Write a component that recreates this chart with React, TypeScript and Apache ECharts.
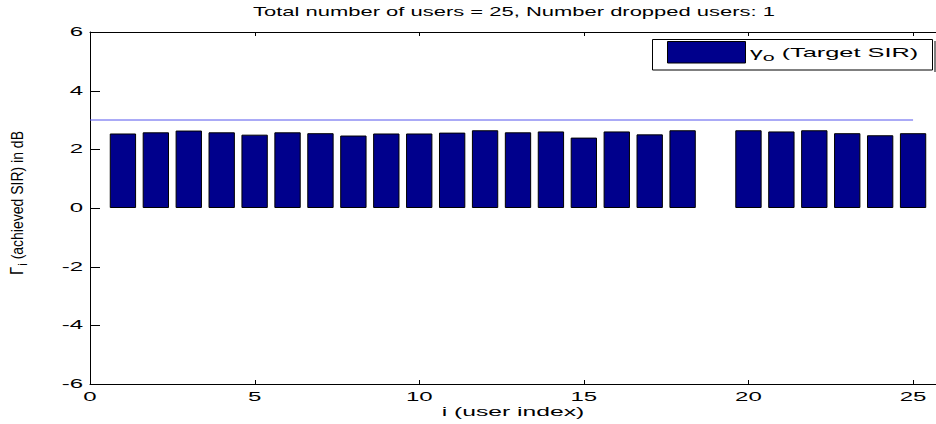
import React, { useEffect, useRef } from "react";
import * as echarts from "echarts";

const users = [1, 2, 3, 4, 5, 6, 7, 8, 9, 10, 11, 12, 13, 14, 15, 16, 17, 18, 19, 20, 21, 22, 23, 24, 25];
const achievedSIR: (number | null)[] = [
  2.54, 2.58, 2.64, 2.58, 2.5, 2.58, 2.55, 2.47, 2.54, 2.54, 2.57, 2.65, 2.58,
  2.61, 2.4, 2.61, 2.51, 2.65, null, 2.65, 2.61, 2.65, 2.55, 2.48, 2.55,
];
const targetLineX = [0, 25];
const targetLineY = [3, 3];
const xTicks = [0, 5, 10, 15, 20, 25];
const xTickLabels = ["0", "5", "10", "15", "20", "25"];
const yTicks = [-6, -4, -2, 0, 2, 4, 6];
const yTickLabels = ["-6", "-4", "-2", "0", "2", "4", "6"];
const titleText = "Total number of users = 25, Number dropped users: 1";
const xAxisTitle = "i (user index)";
const yAxisTitle = "{G|Γ}{i|i}{n| (achieved SIR) in dB}";
const legendLabel = "{g|γ}{s|o}{t| (Target SIR)}";

const W = 936;
const H = 424;
const GRID = { left: 90, right: -10, top: 32, bottom: 40 };
const X_MIN = 0;
const X_MAX = 26;
const Y_MIN = -6;
const Y_MAX = 6;
const FONT = "'Liberation Sans', Arial, sans-serif";

export default function App() {
  const ref = useRef<HTMLDivElement>(null);
  useEffect(() => {
    if (!ref.current) return;
    const chart = echarts.init(ref.current, undefined, { renderer: "svg" });
    const unitPx = (W - GRID.left - GRID.right) / (X_MAX - X_MIN);
    const axisCommon = {
      axisLine: { show: true, onZero: false, lineStyle: { color: "#000", width: 1 } },
      axisTick: { show: false },
      axisLabel: { show: false },
      splitLine: { show: false },
    };
    chart.setOption({
      animation: false,
      backgroundColor: "#ffffff",
      textStyle: { fontFamily: FONT },
      grid: { ...GRID, containLabel: false, outerBoundsMode: "none" },
      xAxis: [
        { type: "value", min: X_MIN, max: X_MAX, interval: 5, position: "bottom", ...axisCommon },
        { type: "value", min: X_MIN, max: X_MAX, interval: 5, position: "top", ...axisCommon },
      ],
      yAxis: [
        { type: "value", min: Y_MIN, max: Y_MAX, interval: 2, position: "left", ...axisCommon },
        { type: "value", min: Y_MIN, max: Y_MAX, interval: 2, position: "right", ...axisCommon },
      ],
      series: [
        {
          name: "target",
          type: "bar",
          xAxisIndex: 0,
          yAxisIndex: 0,
          barWidth: unitPx * 0.8,
          itemStyle: { color: "#00008c", borderColor: "#000", borderWidth: 1 },
          data: users.map((u, k) => [u, achievedSIR[k] === null ? "-" : achievedSIR[k]]),
        },
        {
          name: "line",
          type: "line",
          xAxisIndex: 0,
          yAxisIndex: 0,
          symbol: "none",
          lineStyle: { color: "#5656ee", width: 1 },
          data: targetLineX.map((x, k) => [x, targetLineY[k]]),
        },
      ],
    });

    const toX = (v: number) => chart.convertToPixel({ xAxisIndex: 0 }, v) as number;
    const toY = (v: number) => chart.convertToPixel({ yAxisIndex: 0 }, v) as number;
    const xLeft = toX(X_MIN);
    const xRight = toX(X_MAX);
    const yBottom = toY(Y_MIN);
    const yTop = toY(Y_MAX);
    const crisp = (v: number) => Math.round(v) + 0.5;

    const graphics: any[] = [];
    const tickStyle = { stroke: "#000", lineWidth: 1 };
    xTicks.forEach((v) => {
      const px = crisp(toX(v));
      graphics.push({ type: "line", shape: { x1: px, y1: yBottom, x2: px, y2: yBottom - 4 }, style: tickStyle, z: 5 });
      graphics.push({ type: "line", shape: { x1: px, y1: yTop, x2: px, y2: yTop + 4 }, style: tickStyle, z: 5 });
    });
    yTicks.forEach((v) => {
      const py = crisp(toY(v));
      graphics.push({ type: "line", shape: { x1: xLeft, y1: py, x2: xLeft + 10, y2: py }, style: tickStyle, z: 5 });
      graphics.push({ type: "line", shape: { x1: xRight, y1: py, x2: xRight - 10, y2: py }, style: tickStyle, z: 5 });
    });
    // title
    graphics.push({
      type: "text",
      x: 514,
      y: 12,
      scaleX: 1.69,
      style: { text: titleText, font: `13px ${FONT}`, fill: "#000", align: "center", verticalAlign: "middle" },
    });
    // x tick labels
    xTicks.forEach((v, k) => {
      graphics.push({
        type: "text",
        x: toX(v),
        y: 396.5,
        scaleX: 2.0,
        style: { text: xTickLabels[k], font: `12px ${FONT}`, fill: "#000", align: "center", verticalAlign: "middle" },
      });
    });
    // y tick labels
    yTicks.forEach((v, k) => {
      graphics.push({
        type: "text",
        x: 83,
        y: toY(v),
        scaleX: 2.0,
        style: { text: yTickLabels[k], font: `12px ${FONT}`, fill: "#000", align: "right", verticalAlign: "middle" },
      });
    });
    // x axis title
    graphics.push({
      type: "text",
      x: 513,
      y: 411,
      scaleX: 1.9,
      style: { text: xAxisTitle, font: `13px ${FONT}`, fill: "#000", align: "center", verticalAlign: "middle" },
    });
    // y axis title
    graphics.push({
      type: "text",
      x: 17,
      y: 203,
      rotation: Math.PI / 2,
      scaleY: 1.2,
      style: {
        text: yAxisTitle,
        font: `14px ${FONT}`,
        fill: "#000",
        align: "center",
        verticalAlign: "middle",
        rich: {
          G: { font: `15px ${FONT}`, fill: "#000" },
          i: { font: `11px ${FONT}`, fill: "#000", padding: [9, 0, 0, 1] },
          n: { font: `14px ${FONT}`, fill: "#000" },
        },
      },
    });
    // legend
    graphics.push({
      type: "line",
      shape: { x1: 935, y1: 41, x2: 935, y2: 72 },
      style: { stroke: "#000", lineWidth: 1 },
      z: 10,
    });
    graphics.push({
      type: "rect",
      shape: { x: 652.5, y: 39.5, width: 280, height: 30.5 },
      style: { fill: "#fff", stroke: "#000", lineWidth: 1 },
      z: 10,
    });
    graphics.push({
      type: "rect",
      shape: { x: 667.5, y: 41.5, width: 78, height: 21.5 },
      style: { fill: "#00008c", stroke: "#000", lineWidth: 1 },
      z: 11,
    });
    graphics.push({
      type: "text",
      x: 750,
      y: 52,
      scaleX: 1.95,
      z: 11,
      style: {
        text: legendLabel,
        font: `13px ${FONT}`,
        fill: "#000",
        align: "left",
        verticalAlign: "middle",
        rich: {
          g: { font: `13px ${FONT}`, fill: "#000" },
          s: { font: `11px ${FONT}`, fill: "#000", padding: [10, 0, 0, 0] },
          t: { font: `13px ${FONT}`, fill: "#000" },
        },
      },
    });
    chart.setOption({ graphic: { elements: graphics } });
    return () => chart.dispose();
  }, []);
  return <div ref={ref} style={{ position: "fixed", left: 0, top: 0, width: W, height: H }} />;
}
